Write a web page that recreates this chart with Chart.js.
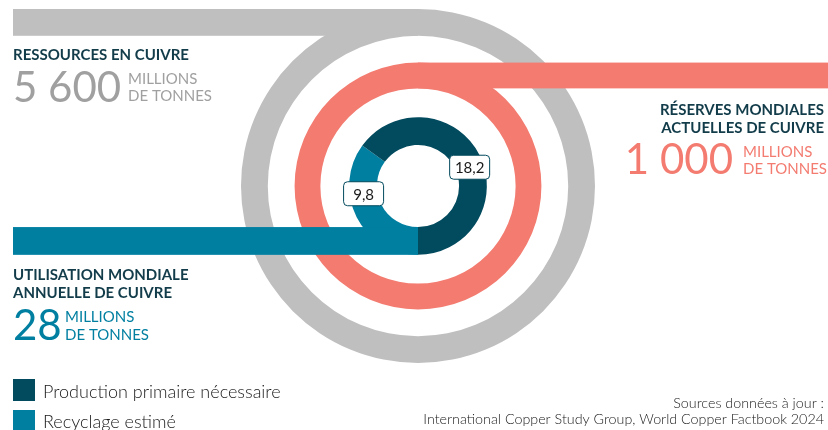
<!DOCTYPE html>
<html lang="fr">
<head>
<meta charset="utf-8">
<script src="https://cdn.jsdelivr.net/npm/chart.js@4.4.1/dist/chart.umd.min.js"></script>
<style>
  html, body { margin: 0; padding: 0; background: #fff; }
  #wrap { position: relative; width: 828px; height: 430px; }
</style>
</head>
<body>
<div id="wrap"><canvas id="chart"></canvas></div>
<script>
// valeurs (millions de tonnes)
const ressources = [5600];
const reserves = [1000];
const utilisationLabels = ["Recyclage estimé", "Production primaire nécessaire"];
const utilisation = [9.8, 18.2];
const utilisationTotal = 28;

const GRAY = "#bfbfbf";
const SALMON = "#f37b70";
const DARK = "#024a5e";
const TEAL = "#017fa1";
const INK = "#123c4a";
const FONT = "Lato, 'Open Sans', sans-serif";

const fmt = v => v.toLocaleString("fr-FR").replace(/\u202f|\u00a0/g, " ");

// queues horizontales des anneaux, calculées depuis les arcs
const tailsPlugin = {
  id: "tails",
  afterDatasetsDraw(chart) {
    const ctx = chart.ctx;
    const tails = [
      { ds: 0, side: "top", dir: "left", color: GRAY },
      { ds: 2, side: "top", dir: "right", color: SALMON },
      { ds: 4, side: "bottom", dir: "left", color: TEAL },
    ];
    ctx.save();
    tails.forEach(t => {
      const arc = chart.getDatasetMeta(t.ds).data[0];
      const y0 = t.side === "top" ? arc.y - arc.outerRadius : arc.y + arc.innerRadius;
      const h = arc.outerRadius - arc.innerRadius;
      const x0 = t.dir === "left" ? 13 : arc.x;
      const x1 = t.dir === "left" ? arc.x : chart.width;
      ctx.fillStyle = t.color;
      ctx.fillRect(x0, y0, x1 - x0, h);
    });
    ctx.restore();
  },
  afterDraw(chart) {
    const ctx = chart.ctx;
    // étiquettes de valeur sur l'anneau intérieur
    const meta = chart.getDatasetMeta(4);
    const fractions = [0.65, 0.53];
    ctx.save();
    ctx.font = "15px " + FONT;
    ctx.textAlign = "center";
    ctx.textBaseline = "middle";
    meta.data.forEach((arc, i) => {
      const a = arc.startAngle + (arc.endAngle - arc.startAngle) * fractions[i];
      const r = (arc.innerRadius + arc.outerRadius) / 2;
      const x = arc.x + Math.cos(a) * r;
      const y = arc.y + Math.sin(a) * r;
      const w = 40, h = 24;
      ctx.beginPath();
      ctx.roundRect(x - w / 2, y - h / 2, w, h, 4);
      ctx.fillStyle = "#fff";
      ctx.fill();
      ctx.lineWidth = 1;
      ctx.strokeStyle = DARK;
      ctx.stroke();
      ctx.fillStyle = "#1a1a1a";
      ctx.fillText(fmt(utilisation[i]), x, y + 1);
    });

    const text = (s, x, y, font, color, align) => {
      ctx.font = font;
      ctx.fillStyle = color;
      ctx.textAlign = align || "left";
      ctx.textBaseline = "alphabetic";
      ctx.fillText(s, x, y);
    };
    const bold = "bold 15px " + FONT;
    const big = "42px " + FONT;
    const small = "15px " + FONT;

    // ressources
    text("RESSOURCES EN CUIVRE", 13, 60, bold, INK);
    text(fmt(ressources[0]), 13, 102, big, "#a0a0a0");
    text("MILLIONS", 128, 84, small, "#a0a0a0");
    text("DE TONNES", 128, 101, small, "#a0a0a0");

    // réserves
    text("RÉSERVES MONDIALES", 824, 115, bold, INK, "right");
    text("ACTUELLES DE CUIVRE", 824, 133, bold, INK, "right");
    text(fmt(reserves[0]), 733, 174, big, SALMON, "right");
    text("MILLIONS", 743, 157, small, SALMON);
    text("DE TONNES", 743, 174, small, SALMON);

    // utilisation
    text("UTILISATION MONDIALE", 13, 280, bold, INK);
    text("ANNUELLE DE CUIVRE", 13, 298, bold, INK);
    text(fmt(utilisationTotal), 13, 340, big, TEAL);
    text("MILLIONS", 65, 322, small, TEAL);
    text("DE TONNES", 65, 340, small, TEAL);

    // légende
    ctx.fillStyle = DARK;
    ctx.fillRect(13, 379, 22, 22);
    ctx.fillStyle = TEAL;
    ctx.fillRect(13, 410, 22, 22);
    text(utilisationLabels[1], 43, 398, "300 18px " + FONT, "#1a1a1a");
    text(utilisationLabels[0], 43, 428, "300 18px " + FONT, "#1a1a1a");

    // sources
    text("Sources données à jour :", 824, 408, "300 14.3px " + FONT, "#1a1a1a", "right");
    text("International Copper Study Group, World Copper Factbook 2024", 824, 424, "300 14.3px " + FONT, "#1a1a1a", "right");
    ctx.restore();
  }
};

const arcStyle = { borderWidth: 0, hoverBorderWidth: 0, hoverOffset: 0 };

new Chart(document.getElementById("chart"), {
  type: "doughnut",
  data: {
    labels: utilisationLabels,
    datasets: [
      { data: ressources, backgroundColor: [GRAY], weight: 27, ...arcStyle },
      { data: [1], backgroundColor: ["rgba(0,0,0,0)"], weight: 27, ...arcStyle },
      { data: reserves, backgroundColor: [SALMON], weight: 26, ...arcStyle },
      { data: [1], backgroundColor: ["rgba(0,0,0,0)"], weight: 29, ...arcStyle },
      { data: utilisation, backgroundColor: [TEAL, DARK], weight: 28, rotation: 180, ...arcStyle },
    ]
  },
  options: {
    responsive: true,
    maintainAspectRatio: false,
    animation: false,
    events: [],
    cutout: "23.2%",
    layout: { padding: { top: 9, bottom: 67, left: 8, right: 0 } },
    plugins: { legend: { display: false }, tooltip: { enabled: false } }
  },
  plugins: [tailsPlugin]
});
</script>
</body>
</html>
